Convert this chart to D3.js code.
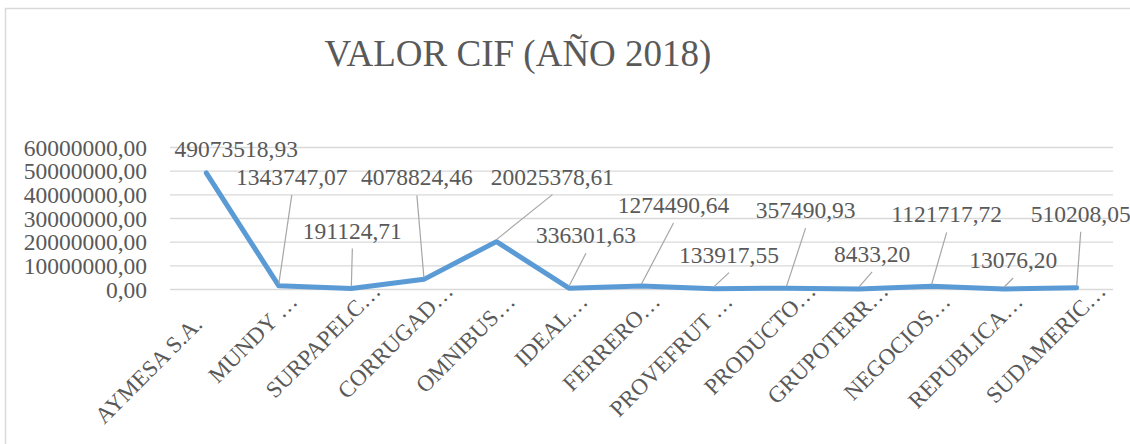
<!DOCTYPE html>
<html>
<head>
<meta charset="utf-8">
<script src="https://cdn.jsdelivr.net/npm/d3@7"></script>
<style>
  body { margin: 0; background: #fff; }
  text { font-family: "Liberation Serif", "Times New Roman", serif; fill: #595959; }
</style>
</head>
<body>
<div id="chart"></div>
<script>
// data
var categories = ["AYMESA S.A.", "MUNDY …", "SURPAPELC…", "CORRUGAD…", "OMNIBUS…", "IDEAL…",
  "FERRERO…", "PROVEFRUT …", "PRODUCTO…", "GRUPOTERR…", "NEGOCIOS…", "REPUBLICA…", "SUDAMERIC…"];
var valorCif = [49073518.93, 1343747.07, 191124.71, 4078824.46, 20025378.61, 336301.63,
  1274490.64, 133917.55, 357490.93, 8433.20, 1121717.72, 13076.20, 510208.05];
var yTicks = [0, 10000000, 20000000, 30000000, 40000000, 50000000, 60000000];

// label placement (dragged labels in the original), offsets from the point
var labelDx = [30, 13, 1, -7, 56, 17, 32, 15, 19, 13, 15, 9, 4];
var labelDy = [-16, -101, -50, -94, -57, -45, -73, -26, -70, -27, -64, -21, -66];
var tickShift = [-32, 0, 15, 15, 0, 0, 0, 0, 15, 15, 0, 0, 15];

var width = 1130, height = 444;
var plotLeft = 170, plotRight = 1113, plotTop = 147, plotBottom = 289;

var fmt = function (v) { return d3.format(".2f")(v).replace(".", ","); };

var points = valorCif.map(function (v, i) {
  return { name: categories[i], value: v, dx: labelDx[i], dy: labelDy[i] };
});

var svg = d3.select("#chart").append("svg")
  .attr("width", width)
  .attr("height", height);

// chart border
svg.append("rect")
  .attr("x", 5.5).attr("y", 8.5)
  .attr("width", width).attr("height", height)
  .attr("fill", "none")
  .attr("stroke", "#d9d9d9")
  .attr("stroke-width", 1.5);

svg.append("text")
  .attr("x", 518).attr("y", 66)
  .attr("text-anchor", "middle")
  .style("font-size", "37px")
  .text("VALOR CIF (AÑO 2018)");

var x = d3.scalePoint()
  .domain(categories)
  .range([plotLeft, plotRight])
  .padding(0.5);

var y = d3.scaleLinear()
  .domain([0, 60000000])
  .range([plotBottom, plotTop]);

var yAxis = svg.append("g")
  .attr("transform", "translate(" + plotLeft + ",0)")
  .call(d3.axisLeft(y)
    .tickValues(yTicks)
    .tickFormat(fmt)
    .tickSize(-(plotRight - plotLeft))
    .tickPadding(23));

yAxis.select(".domain").remove();
yAxis.selectAll("line").attr("stroke", "#d9d9d9").attr("stroke-width", 1.3);
yAxis.selectAll("text")
  .style("font-size", "23.5px")
  .style("font-family", "'Liberation Serif', serif")
  .attr("fill", "#595959")
  .attr("dy", "0.34em");

// category labels
svg.append("g").selectAll("text")
  .data(categories)
  .enter().append("text")
  .attr("text-anchor", "end")
  .style("font-size", "23px")
  .attr("transform", function (d, i) {
    var s = tickShift[i] / Math.SQRT2;
    return "translate(" + (x(d) + 20 + s) + "," + (plotBottom + 14 - s) + ") rotate(-45)";
  })
  .text(function (d) { return d; });

var line = d3.line()
  .x(function (d) { return x(d.name); })
  .y(function (d) { return y(d.value); });

svg.append("path")
  .datum(points)
  .attr("d", line)
  .attr("fill", "none")
  .attr("stroke", "#5b9bd5")
  .attr("stroke-width", 5)
  .attr("stroke-linejoin", "round")
  .attr("stroke-linecap", "round");

// leader lines (only for labels moved away from their point)
svg.append("g").selectAll("line")
  .data(points.filter(function (d) { return d.dy < -20; }))
  .enter().append("line")
  .attr("x1", function (d) { return x(d.name) + d.dx; })
  .attr("y1", function (d) { return y(d.value) + d.dy + 10; })
  .attr("x2", function (d) { return x(d.name); })
  .attr("y2", function (d) { return y(d.value) - 2; })
  .attr("stroke", "#a6a6a6")
  .attr("stroke-width", 1.2);

svg.append("g").selectAll("text")
  .data(points)
  .enter().append("text")
  .attr("x", function (d) { return x(d.name) + d.dx; })
  .attr("y", function (d) { return y(d.value) + d.dy; })
  .attr("text-anchor", "middle")
  .style("font-size", "23.5px")
  .text(function (d) { return fmt(d.value); });
</script>
</body>
</html>
